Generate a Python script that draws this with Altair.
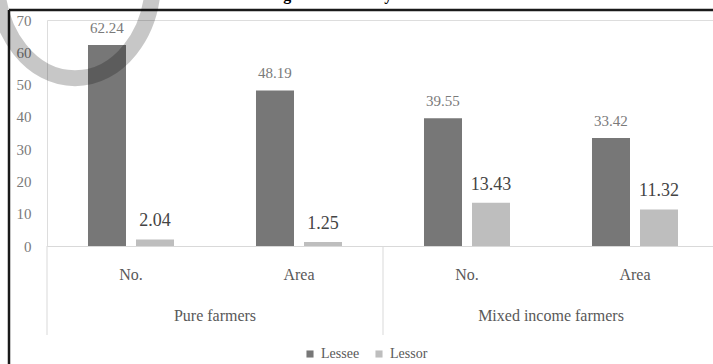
import altair as alt
import pandas as pd

# ---- data -------------------------------------------------------------
groups = ["Pure farmers", "Pure farmers", "Mixed income farmers", "Mixed income farmers"]
measures = ["No.", "Area", "No.", "Area"]
lessee = [62.24, 48.19, 39.55, 33.42]
lessor = [2.04, 1.25, 13.43, 11.32]
series = ["Lessee", "Lessor"]
colors = ["#777777", "#bebebe"]
y_ticks = [0, 10, 20, 30, 40, 50, 60, 70]
title_text = "Figure 4: Tenancy across the States"

keys = [f"{g}|{m}" for g, m in zip(groups, measures)]

rows = []
for k, a, b in zip(keys, lessee, lessor):
    rows.append({"key": k, "series": "Lessee", "value": a})
    rows.append({"key": k, "series": "Lessor", "value": b})
bars_df = pd.DataFrame(rows)

group_df = pd.DataFrame({
    "key": [keys[0], keys[2]],
    "group": [groups[0], groups[2]],
})
sep_df = pd.DataFrame({"key": [keys[0], keys[2]]})
one = pd.DataFrame({"t": [0]})

SERIF = "Liberation Serif"
GREY = "#595959"

x_scale = alt.Scale(domain=keys, range=[0, 672], paddingInner=0, paddingOuter=0)
x_axis = alt.Axis(
    title=None, labelExpr="split(datum.value, '|')[1]", labelAngle=0,
    ticks=False, domainColor="#d9d9d9", domainWidth=1,
    labelFont=SERIF, labelFontSize=16, labelColor=GREY, labelPadding=20,
)
y_scale = alt.Scale(domain=[0, 70], nice=False)
y_axis = alt.Axis(
    title=None, values=y_ticks, grid=False, domain=False, ticks=False,
    labelOverlap=False, labelFlush=False,
    labelFont=SERIF, labelFontSize=15, labelColor="#7a7a7a", labelPadding=16,
)
x_off = alt.XOffset("series:N", scale=alt.Scale(domain=series, paddingInner=0.2083, paddingOuter=0.854))

base = alt.Chart(bars_df)

bars = base.mark_bar().encode(
    x=alt.X("key:N", scale=x_scale, axis=x_axis),
    xOffset=x_off,
    y=alt.Y("value:Q", scale=y_scale, axis=y_axis),
    color=alt.Color(
        "series:N",
        scale=alt.Scale(domain=series, range=colors),
        legend=alt.Legend(
            title=None, orient="none", legendX=256, legendY=327, direction="horizontal",
            symbolType="square", symbolSize=50, symbolStrokeWidth=0,
            labelFont=SERIF, labelFontSize=14, labelColor=GREY, columnPadding=12, padding=0,
        ),
    ),
)

lessee_labels = base.transform_filter(alt.datum.series == "Lessee").mark_text(
    font=SERIF, fontSize=15, color="#7a7a7a", baseline="alphabetic", dy=-12
).encode(
    x=alt.X("key:N", scale=x_scale, axis=x_axis), xOffset=x_off,
    y=alt.Y("value:Q", scale=y_scale, axis=y_axis),
    text=alt.Text("value:Q", format=".2f"),
)

lessor_labels = base.transform_filter(alt.datum.series == "Lessor").mark_text(
    font=SERIF, fontSize=18, color="#444444", baseline="alphabetic", dy=-13
).encode(
    x=alt.X("key:N", scale=x_scale, axis=x_axis), xOffset=x_off,
    y=alt.Y("value:Q", scale=y_scale, axis=y_axis),
    text=alt.Text("value:Q", format=".2f"),
)

# second level of the category axis
group_labels = alt.Chart(group_df).mark_text(
    font=SERIF, fontSize=16, color=GREY, baseline="middle"
).encode(
    x=alt.X("key:N", bandPosition=1, scale=x_scale, axis=x_axis),
    y=alt.value(296),
    text="group:N",
)

separators = alt.Chart(sep_df).mark_rule(color="#d9d9d9", strokeWidth=1).encode(
    x=alt.X("key:N", bandPosition=0, scale=x_scale, axis=x_axis),
    y=alt.value(226),
    y2=alt.value(315),
)

# outer frame and the heading above it
frame_top = alt.Chart(one).mark_rule(color="#1a1a1a", strokeWidth=2.5).encode(
    x=alt.value(-38), x2=alt.value(666), y=alt.value(-10)
)
frame_left = alt.Chart(one).mark_rule(color="#1a1a1a", strokeWidth=2.5).encode(
    x=alt.value(-38), y=alt.value(-10), y2=alt.value(344)
)
heading = alt.Chart(one).mark_text(
    text=title_text, font=SERIF, fontSize=16, fontWeight="bold", color="black",
    align="left", baseline="alphabetic",
).encode(x=alt.value(222), y=alt.value(-20))

# hand-drawn ring in the top-left corner
ring_path = "M -1 0 A 1 1.26 0 1 1 1 0 A 1 1.26 0 1 1 -1 0 Z"
ring = alt.Chart(one).mark_point(
    shape=ring_path, filled=False, size=24336, strokeWidth=16,
    color="black", strokeOpacity=0.22, opacity=1,
).encode(x=alt.value(28), y=alt.value(-40))

chart = alt.layer(
    separators, bars, lessee_labels, lessor_labels, group_labels,
    frame_top, frame_left, heading, ring,
).properties(
    width=666, height=226,
    autosize=alt.AutoSizeParams(type="none"),
    padding={"left": 47, "top": 20, "right": 0, "bottom": 118},
).configure_view(stroke=None).configure(background="white")

chart.save("out.html", embed_options={"renderer": "svg", "actions": False})
